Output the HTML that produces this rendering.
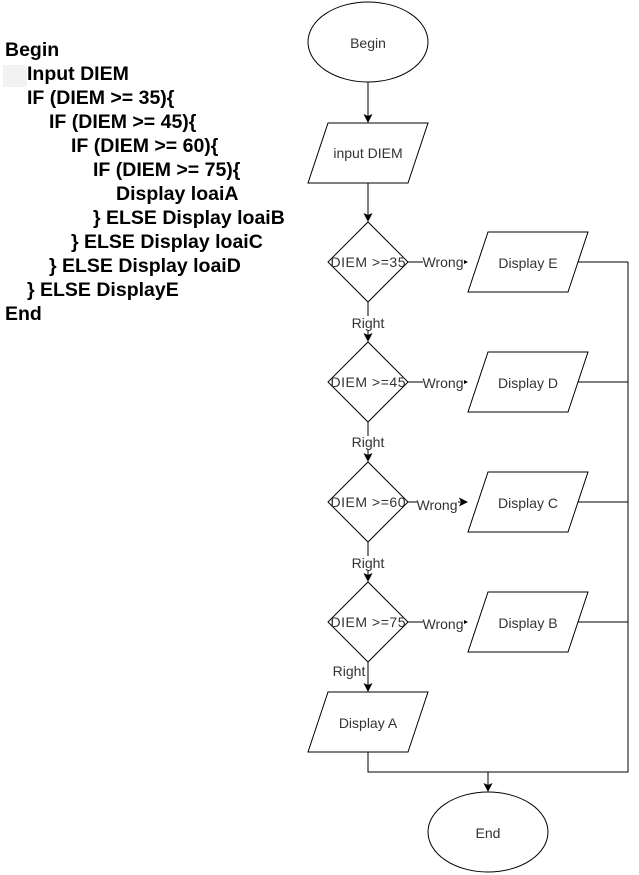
<!DOCTYPE html>
<html><head><meta charset="utf-8"><style>
html,body{margin:0;padding:0;background:#fff;width:639px;height:875px;overflow:hidden;position:relative}
.c{position:absolute;left:0;font:bold 19.5px "Liberation Sans",Arial,sans-serif;color:#000;white-space:pre;line-height:24px}
svg{position:absolute;left:0;top:0}
</style></head><body>
<div style="position:absolute;left:3px;top:65px;width:24px;height:22px;background:#f2f2f2"></div>
<div class="c" style="top:38px;left:5px">Begin</div>
<div class="c" style="top:62px;left:27px">Input DIEM</div>
<div class="c" style="top:86px;left:27px">IF (DIEM &gt;= 35){</div>
<div class="c" style="top:110px;left:49px">IF (DIEM &gt;= 45){</div>
<div class="c" style="top:134px;left:71px">IF (DIEM &gt;= 60){</div>
<div class="c" style="top:158px;left:93px">IF (DIEM &gt;= 75){</div>
<div class="c" style="top:182px;left:116px">Display loaiA</div>
<div class="c" style="top:206px;left:93px">} ELSE Display loaiB</div>
<div class="c" style="top:230px;left:71px">} ELSE Display loaiC</div>
<div class="c" style="top:254px;left:49px">} ELSE Display loaiD</div>
<div class="c" style="top:278px;left:27px">} ELSE DisplayE</div>
<div class="c" style="top:302px;left:5px">End</div>
<svg width="639" height="875" xmlns="http://www.w3.org/2000/svg" font-family="Liberation Sans, Arial, sans-serif" font-size="14" fill="none" stroke="#000" stroke-width="1">
<defs><marker id="a" markerWidth="9" markerHeight="9" refX="8" refY="4.5" orient="auto" markerUnits="userSpaceOnUse"><path d="M0,0 L9,4.5 L0,9 L2,4.5 Z" fill="#000" stroke="none"/></marker></defs>
<ellipse cx="368" cy="42" rx="60" ry="40" fill="#fff"/>
<text x="368" y="48" text-anchor="middle" fill="#333" stroke="none">Begin</text>
<line x1="368" y1="82" x2="368" y2="122" marker-end="url(#a)"/>
<polygon points="328,123 428,123 408,183 308,183" fill="#fff"/>
<text x="368" y="158" text-anchor="middle" fill="#333" stroke="none">input DIEM</text>
<line x1="368" y1="183" x2="368" y2="221" marker-end="url(#a)"/>
<polygon points="368,222 408,262 368,302 328,262" fill="#fff"/>
<line x1="408" y1="262" x2="467" y2="262" marker-end="url(#a)"/>
<text x="368" y="267" text-anchor="middle" fill="#333" stroke="none" textLength="75">DIEM &gt;=35</text>
<rect x="423" y="255" width="41" height="14" fill="#fff" stroke="none"/>
<text x="443" y="267" text-anchor="middle" fill="#333" stroke="none">Wrong</text>
<polygon points="488,232 588,232 568,292 468,292" fill="#fff"/>
<text x="528" y="268" text-anchor="middle" fill="#333" stroke="none">Display E</text>
<line x1="578" y1="262" x2="628" y2="262"/>
<line x1="368" y1="302" x2="368" y2="341" marker-end="url(#a)"/>
<rect x="351" y="316" width="34" height="14" fill="#fff" stroke="none"/>
<text x="368" y="328" text-anchor="middle" fill="#333" stroke="none">Right</text>
<polygon points="368,342 408,382 368,422 328,382" fill="#fff"/>
<line x1="408" y1="382" x2="467" y2="382" marker-end="url(#a)"/>
<text x="368" y="387" text-anchor="middle" fill="#333" stroke="none" textLength="75">DIEM &gt;=45</text>
<rect x="423" y="376" width="41" height="14" fill="#fff" stroke="none"/>
<text x="443" y="388" text-anchor="middle" fill="#333" stroke="none">Wrong</text>
<polygon points="488,352 588,352 568,412 468,412" fill="#fff"/>
<text x="528" y="388" text-anchor="middle" fill="#333" stroke="none">Display D</text>
<line x1="578" y1="382" x2="628" y2="382"/>
<line x1="368" y1="422" x2="368" y2="461" marker-end="url(#a)"/>
<rect x="351" y="436" width="34" height="14" fill="#fff" stroke="none"/>
<text x="368" y="447" text-anchor="middle" fill="#333" stroke="none">Right</text>
<polygon points="368,462 408,502 368,542 328,502" fill="#fff"/>
<line x1="408" y1="502" x2="467" y2="502" marker-end="url(#a)"/>
<text x="368" y="507" text-anchor="middle" fill="#333" stroke="none" textLength="75">DIEM &gt;=60</text>
<rect x="417" y="498" width="41" height="14" fill="#fff" stroke="none"/>
<text x="437" y="510" text-anchor="middle" fill="#333" stroke="none">Wrong</text>
<polygon points="488,472 588,472 568,532 468,532" fill="#fff"/>
<text x="528" y="508" text-anchor="middle" fill="#333" stroke="none">Display C</text>
<line x1="578" y1="502" x2="628" y2="502"/>
<line x1="368" y1="542" x2="368" y2="581" marker-end="url(#a)"/>
<rect x="351" y="556" width="34" height="14" fill="#fff" stroke="none"/>
<text x="368" y="568" text-anchor="middle" fill="#333" stroke="none">Right</text>
<polygon points="368,582 408,622 368,662 328,622" fill="#fff"/>
<line x1="408" y1="622" x2="467" y2="622" marker-end="url(#a)"/>
<text x="368" y="627" text-anchor="middle" fill="#333" stroke="none" textLength="75">DIEM &gt;=75</text>
<rect x="423" y="617" width="41" height="14" fill="#fff" stroke="none"/>
<text x="443" y="629" text-anchor="middle" fill="#333" stroke="none">Wrong</text>
<polygon points="488,592 588,592 568,652 468,652" fill="#fff"/>
<text x="528" y="628" text-anchor="middle" fill="#333" stroke="none">Display B</text>
<line x1="578" y1="622" x2="628" y2="622"/>
<line x1="368" y1="662" x2="368" y2="691" marker-end="url(#a)"/>
<text x="349" y="676" text-anchor="middle" fill="#333" stroke="none">Right</text>
<polygon points="328,692 428,692 408,752 308,752" fill="#fff"/>
<text x="368" y="728" text-anchor="middle" fill="#333" stroke="none">Display A</text>
<polyline points="368,752 368,772 628,772 628,262"/>
<line x1="488" y1="772" x2="488" y2="791" marker-end="url(#a)"/>
<ellipse cx="488" cy="832" rx="60" ry="40" fill="#fff"/>
<text x="488" y="838" text-anchor="middle" fill="#333" stroke="none">End</text>
</svg>
</body></html>
